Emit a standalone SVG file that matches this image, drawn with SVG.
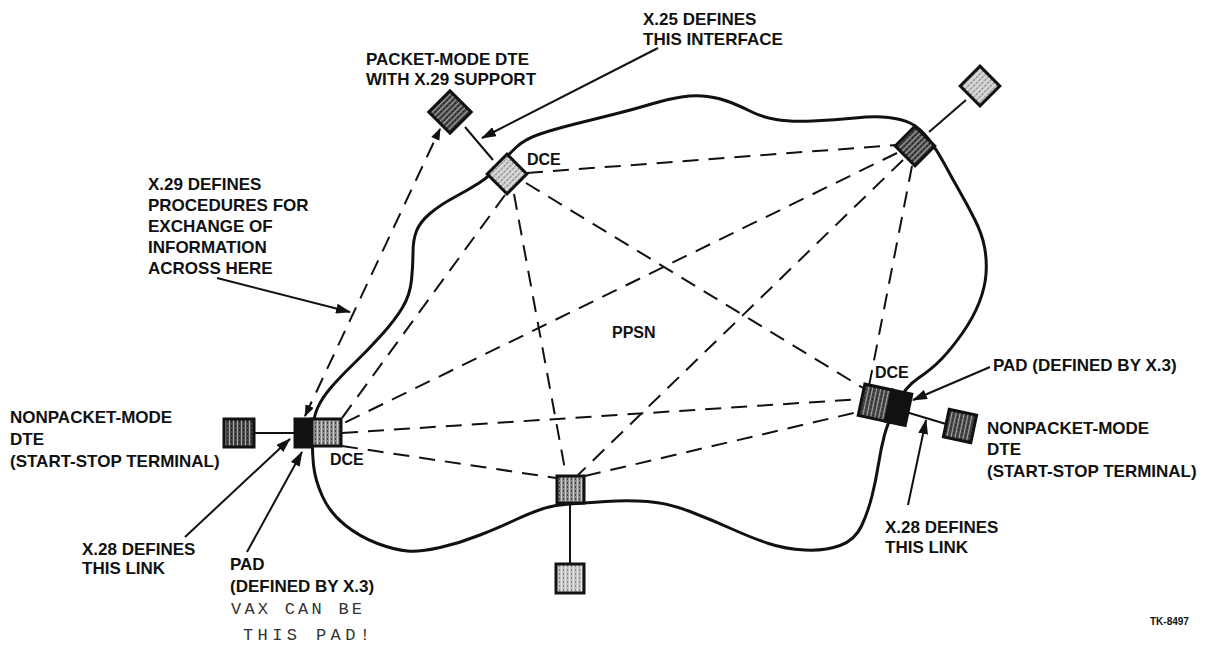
<svg xmlns="http://www.w3.org/2000/svg" width="1207" height="645" viewBox="0 0 1207 645">
<style>
.lbl{font-family:"Liberation Sans",Arial,sans-serif;font-weight:bold;font-size:17px;fill:#111}
.sm{font-size:16px}
.tk{font-size:10px}
.hand{font-family:"Liberation Mono","DejaVu Sans Mono",monospace;font-size:17px;fill:#333;font-weight:normal}
.dash{stroke:#111;stroke-width:2;stroke-dasharray:16 10;fill:none}
.solid{stroke:#111;stroke-width:2;fill:none}
.ptr{stroke:#111;stroke-width:2;fill:none;marker-end:url(#ah)}
.box{stroke:#111;stroke-width:3}
.cloud{fill:none;stroke:#111;stroke-width:3;stroke-linejoin:round}
</style>
<defs>
<marker id="ah" markerWidth="15" markerHeight="10" refX="14" refY="5" orient="auto" markerUnits="userSpaceOnUse"><path d="M0,0 L15,5 L0,10 z" fill="#111"/></marker>
<marker id="ah2" markerWidth="12" markerHeight="9" refX="11" refY="4.5" orient="auto-start-reverse" markerUnits="userSpaceOnUse"><path d="M0,0 L12,4.5 L0,9 z" fill="#111"/></marker>
<pattern id="pLight" width="4" height="4" patternUnits="userSpaceOnUse"><rect width="4" height="4" fill="#c4c4c4"/><rect x="1" width="1" height="4" fill="#e6e6e6"/><rect x="3" y="1" width="1" height="2" fill="#8a8a8a"/></pattern>
<pattern id="pMid" width="4" height="4" patternUnits="userSpaceOnUse"><rect width="4" height="4" fill="#8c8c8c"/><rect x="1" width="1" height="4" fill="#cfcfcf"/><rect x="3" y="2" width="1" height="2" fill="#444"/></pattern>
<pattern id="pDark" width="4" height="4" patternUnits="userSpaceOnUse"><rect width="4" height="4" fill="#4a4a4a"/><rect x="1" width="1" height="4" fill="#a8a8a8"/><rect x="3" y="1" width="1" height="2" fill="#222"/></pattern>
</defs>

<g id="cloud-ppsn">
<path class="cloud" d="M312.5,434 Q313,418 317.5,408 Q322,398 331,387.5 Q340,377 354,363.5 Q368,350 381.5,335 Q395,320 402.5,307.5 Q410,295 411.5,280 Q413,265 413,252.5 Q413,240 416.5,231 Q420,222 430,213.5 Q440,205 454,197.5 Q468,190 479,183 Q490,176 499,165.5 Q508,155 516.5,147 Q525,139 540,134 Q555,129 575,124 Q595,119 615,114 Q635,109 651.5,104 Q668,99 681.5,97 Q695,95 707.5,96.5 Q720,98 731,102.5 Q742,107 752,112 Q762,117 776,119.5 Q790,122 812.5,121 Q835,120 855,118 Q875,116 888.5,117.5 Q902,119 911,123.5 Q920,128 928.5,139 Q937,150 944.5,164 Q952,178 960,192 Q968,206 975,220 Q982,234 984.5,247 Q987,260 986,274 Q985,288 979,303 Q973,318 962.5,333 Q952,348 942,358.5 Q932,369 918.5,378 Q905,387 896.5,404.5 Q888,422 884.5,435 Q881,448 878.5,464 Q876,480 872,496 Q868,512 861.5,526 Q855,540 840,545.5 Q825,551 805,550 Q785,549 768.5,543.5 Q752,538 732,529 Q712,520 690,511.5 Q668,503 647.5,501.5 Q627,500 606,501.5 Q585,503 569.5,504 Q554,505 542,509 Q530,513 515,520 Q500,527 480,535 Q460,543 440,547.5 Q420,552 407.5,551 Q395,550 377.5,543.5 Q360,537 345,525 Q330,513 322.5,496.5 Q315,480 313.5,465 Q312,450 312.5,434 Z"/>
<text class="lbl sm" x="612" y="338">PPSN</text>
</g>

<g id="connectors">
<line class="dash" x1="527" y1="173" x2="896" y2="145"/>
<line class="dash" x1="526" y1="183" x2="863" y2="388"/>
<line class="dash" x1="514" y1="194" x2="566" y2="475"/>
<line class="dash" x1="505" y1="195" x2="342" y2="418"/>
<line class="dash" x1="897" y1="153" x2="342" y2="424"/>
<line class="dash" x1="903" y1="160" x2="578" y2="475"/>
<line class="dash" x1="912" y1="166" x2="869" y2="386"/>
<line class="dash" x1="342" y1="433" x2="862" y2="399"/>
<line class="dash" x1="342" y1="446" x2="556" y2="478"/>
<line class="dash" x1="585" y1="476" x2="862" y2="411"/>
<line class="dash" x1="305" y1="416" x2="440" y2="129" marker-start="url(#ah2)" marker-end="url(#ah2)"/>
<line class="solid" x1="465" y1="127" x2="493" y2="160"/>
<line class="solid" x1="929" y1="132" x2="966" y2="100"/>
<line class="solid" x1="255" y1="433" x2="294" y2="433"/>
<line class="solid" x1="570" y1="503" x2="570" y2="563"/>
<line class="solid" x1="906" y1="412" x2="946" y2="424"/>
<line class="ptr" x1="658" y1="48" x2="482" y2="138"/>
<line class="ptr" x1="217" y1="278" x2="350" y2="312"/>
<line class="ptr" x1="185" y1="537" x2="290" y2="439"/>
<line class="ptr" x1="247" y1="552" x2="302" y2="452"/>
<line class="ptr" x1="990" y1="367" x2="913" y2="400"/>
<line class="ptr" x1="908" y1="505" x2="926" y2="420"/>
</g>

<g id="dte-packet"><rect class="box" x="435" y="97" width="30" height="30" fill="url(#pDark)" transform="rotate(45 450 112)"/></g>
<g id="dce-top"><rect class="box" x="493" y="160" width="28" height="28" fill="url(#pLight)" transform="rotate(45 507 174)"/><text class="lbl sm" x="527" y="165">DCE</text></g>
<g id="dce-topright"><rect class="box" x="901" y="132" width="28" height="28" fill="url(#pDark)" transform="rotate(45 915 146)"/></g>
<g id="dte-topright"><rect class="box" x="966" y="72" width="28" height="28" fill="url(#pLight)" transform="rotate(45 980 86)"/></g>
<g id="dte-left"><rect class="box" x="224" y="419" width="30" height="28" fill="url(#pDark)"/></g>
<g id="pad-left"><rect class="box" x="295" y="419" width="17" height="28" fill="#111"/></g>
<g id="dce-left"><rect class="box" x="312" y="419" width="29" height="27" fill="url(#pMid)"/><text class="lbl sm" x="330" y="465">DCE</text></g>
<g id="dce-bottom"><rect class="box" x="557" y="476" width="27" height="27" fill="url(#pMid)"/></g>
<g id="dte-bottom"><rect class="box" x="556" y="564" width="28" height="29" fill="url(#pLight)"/></g>
<g id="dce-right"><rect class="box" x="861" y="389" width="28" height="32" fill="url(#pDark)" transform="rotate(12 886 405)"/><text class="lbl sm" x="875" y="378">DCE</text></g>
<g id="pad-right"><rect class="box" x="889" y="389" width="20" height="32" fill="#111" transform="rotate(12 886 405)"/></g>
<g id="dte-right"><rect class="box" x="946" y="412" width="28" height="28" fill="url(#pDark)" transform="rotate(12 960 426)"/></g>

<g id="labels">
<text class="lbl" x="643" y="25">X.25 DEFINES</text>
<text class="lbl" x="643" y="45">THIS INTERFACE</text>
<text class="lbl" x="366" y="65">PACKET-MODE DTE</text>
<text class="lbl" x="366" y="85">WITH X.29 SUPPORT</text>
<text class="lbl" x="148" y="190">X.29 DEFINES</text>
<text class="lbl" x="148" y="211">PROCEDURES FOR</text>
<text class="lbl" x="148" y="232">EXCHANGE OF</text>
<text class="lbl" x="148" y="253">INFORMATION</text>
<text class="lbl" x="148" y="274">ACROSS HERE</text>
<text class="lbl" x="10" y="423">NONPACKET-MODE</text>
<text class="lbl" x="10" y="445">DTE</text>
<text class="lbl" x="10" y="467">(START-STOP TERMINAL)</text>
<text class="lbl" x="82" y="555">X.28 DEFINES</text>
<text class="lbl" x="82" y="574">THIS LINK</text>
<text class="lbl" x="230" y="570">PAD</text>
<text class="lbl" x="230" y="592">(DEFINED BY X.3)</text>
<text class="hand" x="231" y="614" textLength="131" lengthAdjust="spacing">VAX CAN BE</text>
<text class="hand" x="243" y="640" textLength="127" lengthAdjust="spacing">THIS PAD!</text>
<text class="lbl" x="993" y="371">PAD (DEFINED BY X.3)</text>
<text class="lbl" x="987" y="434">NONPACKET-MODE</text>
<text class="lbl" x="987" y="455">DTE</text>
<text class="lbl" x="987" y="477">(START-STOP TERMINAL)</text>
<text class="lbl" x="885" y="533">X.28 DEFINES</text>
<text class="lbl" x="885" y="553">THIS LINK</text>
<text class="lbl tk" x="1150" y="625">TK-8497</text>
</g>
</svg>
